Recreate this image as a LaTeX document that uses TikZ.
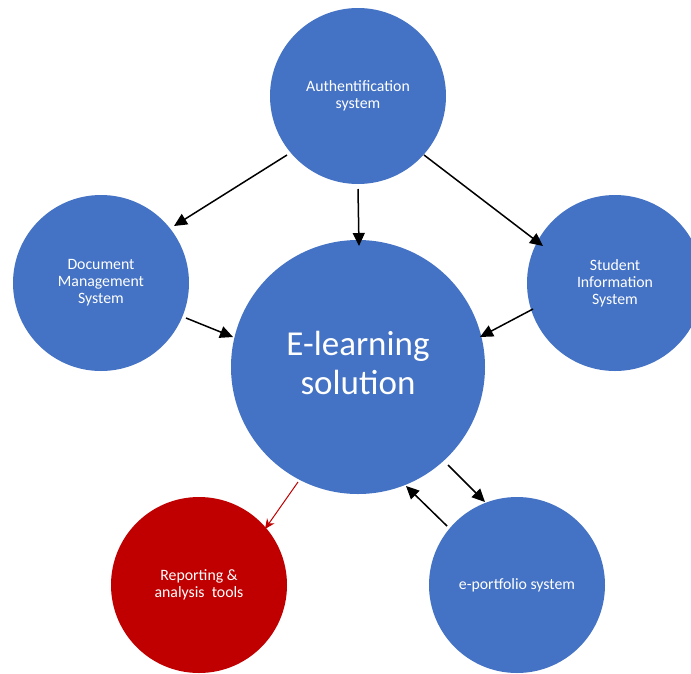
\documentclass[tikz,border=0pt]{standalone}
\usepackage{fontspec}
\setmainfont{Carlito}
\usetikzlibrary{arrows.meta}
\definecolor{nodeblue}{HTML}{4472C4}
\definecolor{nodered}{HTML}{C00000}
\begin{document}
\begin{tikzpicture}[x=1pt,y=-1pt,
  smallcircle/.style={circle, fill=nodeblue, draw=none, minimum size=176pt, inner sep=0pt,
    text=white, align=center, font=\fontsize{15.8}{17}\selectfont},
  bigcircle/.style={smallcircle, minimum size=254pt, font=\fontsize{35}{39}\selectfont},
  redcircle/.style={smallcircle, fill=nodered},
  flow/.style={-{Triangle[length=13pt,width=12pt]}, line width=1.5pt, black},
  redflow/.style={-{Stealth[length=10pt,width=9pt]}, line width=1pt, nodered}]
\useasboundingbox (0,0) rectangle (691,673);

\node[smallcircle] (auth) at (358,96) {Authentification\\system};
\node[smallcircle] (dms) at (101,283) {Document\\Management\\System};
\node[smallcircle] (sis) at (615,283) {Student\\Information\\System};
\node[bigcircle] (el) at (358,367) {\raisebox{3pt}{\begin{tabular}{@{}c@{}}E-learning\\solution\end{tabular}}};
\node[redcircle] (rep) at (199,585) {Reporting \&\\analysis\ \ tools};
\node[smallcircle] (eport) at (517,585) {e-portfolio system};

% connector end points (arrows stop short of the circles)
\coordinate (a1s) at (287,155); \coordinate (a1e) at (174,226);
\coordinate (a2s) at (358,189); \coordinate (a2e) at (359,246);
\coordinate (a3s) at (424,155); \coordinate (a3e) at (543,246);
\coordinate (d1s) at (186,318); \coordinate (d1e) at (233,337);
\coordinate (s1s) at (533,309); \coordinate (s1e) at (480,337);
\coordinate (e1s) at (448,465); \coordinate (e1e) at (485,502);
\coordinate (p1s) at (447,526); \coordinate (p1e) at (406,486);
\coordinate (r1s) at (298,482); \coordinate (r1e) at (265,529);

\draw[flow] (a1s) -- (a1e);
\draw[flow] (a2s) -- (a2e);
\draw[flow] (a3s) -- (a3e);
\draw[flow] (d1s) -- (d1e);
\draw[flow] (s1s) -- (s1e);
\draw[flow] (e1s) -- (e1e);
\draw[flow] (p1s) -- (p1e);
\draw[redflow] (r1s) -- (r1e);
\end{tikzpicture}
\end{document}
